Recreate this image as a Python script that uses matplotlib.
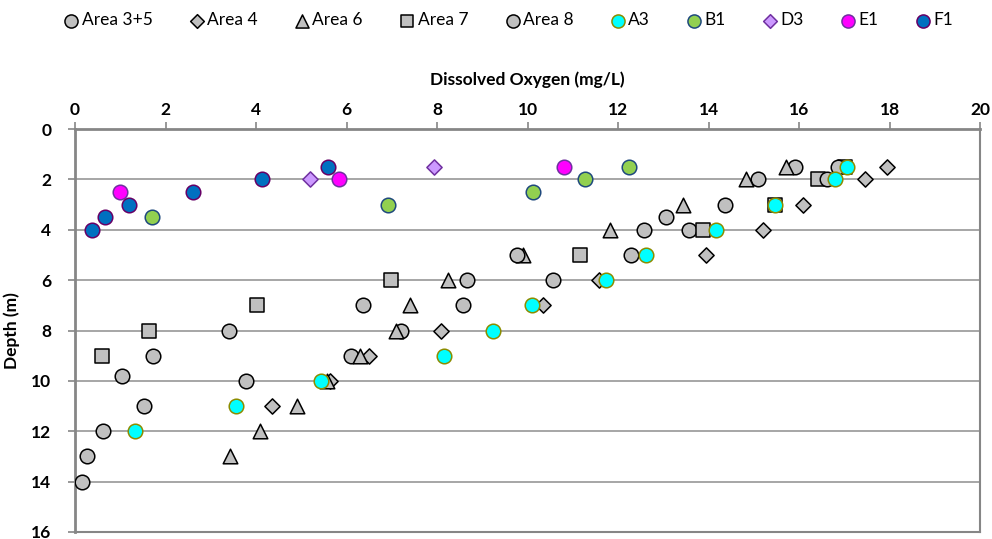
import matplotlib.pyplot as plt

plt.rcParams['font.family'] = ['Lato', 'DejaVu Sans']

# dissolved oxygen (mg/L) against depth (m) for each station
area35_do = [15.91, 15.09, 14.36, 13.57, 12.29, 10.56, 8.57, 7.20, 6.10, 3.78, 1.52, 0.62, 0.27, 0.15]
area35_depth = [1.5, 2, 3, 4, 5, 6, 7, 8, 9, 10, 11, 12, 13, 14]

area4_do = [17.94, 17.46, 16.09, 15.20, 13.94, 11.58, 10.34, 8.09, 6.50, 5.64, 4.35]
area4_depth = [1.5, 2, 3, 4, 5, 6, 7, 8, 9, 10, 11]

area6_do = [15.71, 14.83, 13.44, 11.82, 9.90, 8.24, 7.40, 7.09, 6.30, 5.57, 4.91, 4.09, 3.43]
area6_depth = [1.5, 2, 3, 4, 5, 6, 7, 8, 9, 10, 11, 12, 13]

area7_do = [17.02, 16.42, 15.47, 13.88, 11.16, 6.98, 4.02, 1.64, 0.60]
area7_depth = [1.5, 2, 3, 4, 5, 6, 7, 8, 9]

area8_do = [16.86, 16.62, 13.06, 12.57, 9.77, 8.66, 6.36, 3.40, 1.72, 1.04]
area8_depth = [1.5, 2, 3.5, 4, 5, 6, 7, 8, 9, 9.8]

a3_do = [17.06, 16.80, 15.47, 14.17, 12.62, 11.73, 10.10, 9.24, 8.15, 5.44, 3.56, 1.33]
a3_depth = [1.5, 2, 3, 4, 5, 6, 7, 8, 9, 10, 11, 12]

b1_do = [12.24, 11.27, 10.12, 6.92, 1.70]
b1_depth = [1.5, 2, 2.5, 3, 3.5]

d3_do = [7.93, 5.19]
d3_depth = [1.5, 2]

e1_do = [10.81, 5.83, 0.99]
e1_depth = [1.5, 2, 2.5]

f1_do = [5.59, 4.13, 2.61, 1.19, 0.66, 0.38]
f1_depth = [1.5, 2, 2.5, 3, 3.5, 4]

series = [
    ('Area 3+5', area35_do, area35_depth, 'o', '#C0C0C0', '#000000'),
    ('Area 4', area4_do, area4_depth, 'D', '#C0C0C0', '#000000'),
    ('Area 6', area6_do, area6_depth, '^', '#C0C0C0', '#000000'),
    ('Area 7', area7_do, area7_depth, 's', '#C0C0C0', '#000000'),
    ('Area 8', area8_do, area8_depth, 'o', '#C0C0C0', '#000000'),
    ('A3', a3_do, a3_depth, 'o', '#00FFFF', '#8C8C00'),
    ('B1', b1_do, b1_depth, 'o', '#92D050', '#1F497D'),
    ('D3', d3_do, d3_depth, 'D', '#CC99FF', '#7030A0'),
    ('E1', e1_do, e1_depth, 'o', '#FF00FF', '#7030A0'),
    ('F1', f1_do, f1_depth, 'o', '#0070C0', '#660066'),
]
sizes = {'o': 110, 'D': 60, '^': 110, 's': 105}

fig = plt.figure(figsize=(9.92, 5.39), dpi=100)
ax = fig.add_axes([75 / 992, 1 - 532 / 539, 905 / 992, 403 / 539])

handles = []
for name, xs, ys, mk, fc, ec in series:
    h = ax.scatter(xs, ys, s=sizes[mk], marker=mk, facecolor=fc, edgecolor=ec,
                   linewidths=1.1, label=name, zorder=3)
    handles.append(h)

ax.set_xlim(0, 20)
ax.set_ylim(16, 0)
ax.set_xticks(range(0, 21, 2))
ax.set_yticks(range(0, 17, 2))
ax.xaxis.tick_top()
ax.xaxis.set_label_position('top')
ax.grid(axis='y', color='#A6A6A6', linewidth=1.4, zorder=0)

for side in ['left', 'top']:
    ax.spines[side].set_color('#868686')
    ax.spines[side].set_linewidth(2)
for side in ['right', 'bottom']:
    ax.spines[side].set_color('#868686')
    ax.spines[side].set_linewidth(1.5)

ax.tick_params(axis='both', colors='#868686', length=5, width=1.2, labelsize=12.5,
               labelcolor='black')
ax.tick_params(axis='x', pad=3)
ax.tick_params(axis='y', pad=12)
for lbl in ax.get_xticklabels() + ax.get_yticklabels():
    lbl.set_fontweight('bold')

ax.set_xlabel('Dissolved Oxygen (mg/L)', fontsize=12.5, fontweight='bold', labelpad=12)
ax.set_ylabel('Depth (m)', fontsize=12.5, fontweight='bold')
ax.yaxis.set_label_coords(-0.061, 0.5)

fig.legend(handles=handles, loc='upper center', bbox_to_anchor=(0.512, 1.0),
           ncol=10, frameon=False, fontsize=12.5, markerscale=0.9,
           handletextpad=0.1, columnspacing=2.05, handlelength=1.0,
           borderaxespad=0.3)

fig.savefig('out.png', dpi=100)
